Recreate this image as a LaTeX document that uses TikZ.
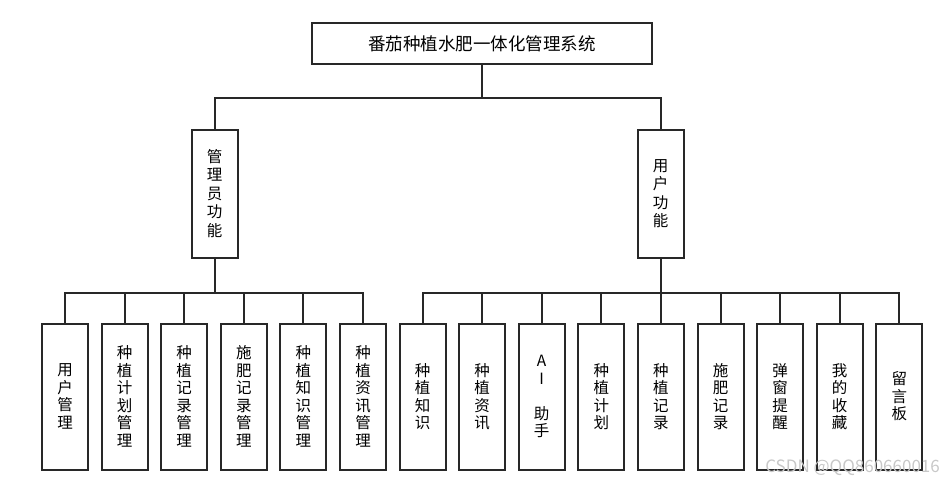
\documentclass[tikz,border=0pt]{standalone}
\usepackage{fontspec}
\setmainfont{Noto Sans CJK SC}
\usetikzlibrary{positioning, calc}
\definecolor{colBorder}{RGB}{40,40,40}
\definecolor{colMark}{RGB}{200,200,200}
\tikzset{
  titleBox/.style={
    rectangle, draw=colBorder, line width=2pt,
    minimum width=340pt, minimum height=41pt,
    font=\fontsize{17.5}{20}\selectfont, inner sep=0pt
  },
  roleBox/.style={
    rectangle, draw=colBorder, line width=2pt,
    minimum width=46pt, minimum height=128pt,
    align=center, font=\fontsize{15.5}{18.5}\selectfont, inner sep=0pt
  },
  leafBox/.style={
    rectangle, draw=colBorder, line width=2pt,
    minimum width=46pt, minimum height=146pt,
    align=center, font=\fontsize{15.5}{17.5}\selectfont, inner sep=0pt
  },
  link/.style={
    line width=2pt, color=colBorder
  },
  wmText/.style={
    font=\fontsize{17}{17}\selectfont, text=colMark, inner sep=0pt
  }
}

\begin{document}
\begin{tikzpicture}[x=1pt, y=-1pt, node distance=11.6pt]
  \useasboundingbox (0,0) rectangle (944,484);

  \node[titleBox] (sys) at (482,43.5) {番茄种植水肥一体化管理系统};

  \node[roleBox] (admin) at (214.5,193.5) {管\\理\\员\\功\\能};
  \node[roleBox] (user) at (660.5,193.5) {用\\户\\功\\能};

  % admin functions
  \node[leafBox] (a1) at (65,396.5) {用\\户\\管\\理};
  \node[leafBox, right=of a1] (a2) {种\\植\\计\\划\\管\\理};
  \node[leafBox, right=of a2] (a3) {种\\植\\记\\录\\管\\理};
  \node[leafBox, right=of a3] (a4) {施\\肥\\记\\录\\管\\理};
  \node[leafBox, right=of a4] (a5) {种\\植\\知\\识\\管\\理};
  \node[leafBox, right=of a5] (a6) {种\\植\\资\\讯\\管\\理};

  % user functions
  \node[leafBox] (u1) at (422.5,396.5) {种\\植\\知\\识};
  \node[leafBox, right=of u1] (u2) {种\\植\\资\\讯};
  \node[leafBox, right=of u2] (u3) {A\\I\\\mbox{}\\助\\手};
  \node[leafBox, right=of u3] (u4) {种\\植\\计\\划};
  \node[leafBox, right=of u4] (u5) {种\\植\\记\\录};
  \node[leafBox, right=of u5] (u6) {施\\肥\\记\\录};
  \node[leafBox, right=of u6] (u7) {弹\\窗\\提\\醒};
  \node[leafBox, right=of u7] (u8) {我\\的\\收\\藏};
  \node[leafBox, right=of u8] (u9) {留\\言\\板};

  \coordinate (busTop) at (0,98);
  \coordinate (busLow) at (0,293);

  % top level tree
  \draw[link] (sys.south) -- (sys.south |- busTop);
  \draw[link] (admin.north) |- (user.north |- busTop) -- (user.north);

  % admin branch
  \draw[link] (admin.south) -- (admin.south |- busLow);
  \draw[link] (a1.north) |- (a6.north |- busLow) -- (a6.north);
  \draw[link] (a2.north) -- (a2.north |- busLow);
  \draw[link] (a3.north) -- (a3.north |- busLow);
  \draw[link] (a4.north) -- (a4.north |- busLow);
  \draw[link] (a5.north) -- (a5.north |- busLow);

  % user branch
  \draw[link] (user.south) -- (user.south |- busLow);
  \draw[link] (u1.north) |- (u9.north |- busLow) -- (u9.north);
  \draw[link] (u2.north) -- (u2.north |- busLow);
  \draw[link] (u3.north) -- (u3.north |- busLow);
  \draw[link] (u4.north) -- (u4.north |- busLow);
  \draw[link] (u5.north) -- (u5.north |- busLow);
  \draw[link] (u6.north) -- (u6.north |- busLow);
  \draw[link] (u7.north) -- (u7.north |- busLow);
  \draw[link] (u8.north) -- (u8.north |- busLow);

  \node[wmText, anchor=east] (wm) at (940,468) {CSDN @QQ860660016};

\end{tikzpicture}
\end{document}
